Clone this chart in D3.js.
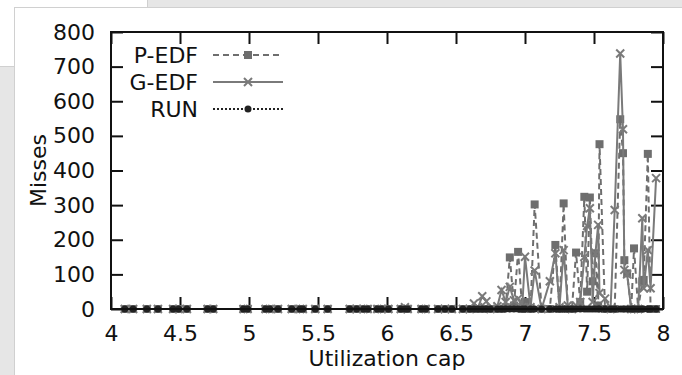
<!DOCTYPE html>
<html>
<head>
<meta charset="utf-8">
<script src="https://cdn.jsdelivr.net/npm/d3@7"></script>
<style>
  html, body { margin: 0; padding: 0; }
  body { width: 682px; height: 375px; background: #e6e6e6; position: relative; overflow: hidden; font-family: "DejaVu Sans", sans-serif; }
  #tab { position: absolute; left: 0; top: 0; width: 147px; height: 66px; background: #fff; border-right: 1px solid #d0d0d0; border-bottom: 1px solid #d0d0d0; }
  #panel { position: absolute; left: 14px; top: 7px; width: 700px; height: 400px; background: #fff; border-left: 1px solid #d0d0d0; border-top: 1px solid #d0d0d0; }
  #chart { position: absolute; left: 0; top: 0; }
</style>
</head>
<body>
<div id="tab"></div>
<div id="panel"></div>
<div id="chart"></div>
<script>
// Misses vs utilization cap
(function () {
    const width = 682;
    const height = 375;
    const margin = { top: 32, right: 19, bottom: 66, left: 111 };

    // utilization caps (shared by all three series)
    const caps = [4.10, 4.16, 4.26, 4.34, 4.45, 4.49, 4.55, 4.70, 4.74, 4.96, 4.99,
        5.12, 5.15, 5.21, 5.31, 5.37, 5.39, 5.48, 5.57, 5.73, 5.78, 5.83, 5.86, 5.93, 5.96,
        6.01, 6.10, 6.13, 6.15, 6.25, 6.28, 6.37, 6.42, 6.47, 6.55, 6.60, 6.63, 6.66, 6.69,
        6.72, 6.75, 6.80, 6.83, 6.86, 6.89, 6.92, 6.95, 6.98, 7.00, 7.04, 7.07, 7.12, 7.18,
        7.22, 7.25, 7.28, 7.31, 7.34, 7.37, 7.40, 7.43, 7.45, 7.47, 7.49, 7.51, 7.53, 7.54,
        7.58, 7.62, 7.65, 7.69, 7.71, 7.72, 7.74, 7.77, 7.79, 7.82, 7.85, 7.86, 7.89, 7.91, 7.95];

    const pedf = [0, 0, 0, 0, 0, 0, 0, 0, 0, 0, 0,
        0, 0, 0, 0, 0, 0, 0, 0, 0, 0, 0, 0, 0, 0,
        0, 0, 0, 0, 0, 0, 0, 0, 0, 0, 0, 0, 0, 0,
        0, 0, 0, 0, 5, 149, 10, 165, 0, 20, 0, 302, 0, 0,
        185, 0, 305, 0, 0, 163, 20, 324, 50, 322, 80, 161, 10, 476,
        0, 0, 0, 548, 450, 141, 103, 0, 175, 0, 80, 84, 448, 0, 0];

    const gedf = [0, 0, 0, 0, 0, 0, 0, 0, 0, 0, 0,
        0, 0, 0, 0, 0, 0, 0, 0, 0, 0, 0, 0, 0, 0,
        0, 0, 5, 0, 0, 0, 0, 0, 0, 0, 0, 16, 5, 37,
        22, 0, 8, 55, 20, 64, 25, 30, 5, 151, 5, 111, 0, 80,
        161, 5, 170, 10, 0, 10, 20, 150, 240, 291, 20, 160, 243, 46,
        30, 0, 286, 738, 519, 113, 100, 0, 0, 0, 262, 60, 170, 60, 378];

    const run = caps.map(() => 0);

    const yTicks = [0, 100, 200, 300, 400, 500, 600, 700, 800];
    const xTicks = [4, 4.5, 5, 5.5, 6, 6.5, 7, 7.5, 8];

    const series = [
        { name: 'P-EDF', values: pedf, color: '#6e6e6e', dash: '6,4', marker: 'square' },
        { name: 'G-EDF', values: gedf, color: '#7a7a7a', dash: null, marker: 'cross' },
        { name: 'RUN', values: run, color: '#222', dash: '2,2', marker: 'dot' }
    ];

    const svg = d3.select('#chart')
        .append('svg')
        .attr('width', width)
        .attr('height', height)
        .style('font-family', '"DejaVu Sans", sans-serif');

    const x = d3.scaleLinear().domain([4, 8]).range([margin.left, width - margin.right]);
    const y = d3.scaleLinear().domain([0, 800]).range([height - margin.bottom, margin.top]);

    const fontSize = 22;

    // axes with inward ticks
    svg.append('g')
        .attr('transform', `translate(0,${y(0)})`)
        .call(d3.axisBottom(x).tickValues(xTicks).tickFormat(d3.format('')).tickSize(-12).tickSizeOuter(0).tickPadding(16));
    svg.append('g')
        .attr('transform', `translate(${x(4)},0)`)
        .call(d3.axisLeft(y).tickValues(yTicks).tickSize(-12).tickSizeOuter(0).tickPadding(16));
    svg.append('g')
        .attr('transform', `translate(0,${y(800)})`)
        .call(d3.axisTop(x).tickValues(xTicks).tickFormat('').tickSize(-12).tickSizeOuter(0));
    svg.append('g')
        .attr('transform', `translate(${x(8)},0)`)
        .call(d3.axisRight(y).tickValues(yTicks).tickFormat('').tickSize(-12).tickSizeOuter(0));

    svg.selectAll('.domain').remove();
    svg.selectAll('.tick line').attr('stroke', '#111').attr('stroke-width', 2);
    svg.selectAll('.tick text')
        .attr('fill', '#111')
        .style('font-size', fontSize + 'px')
        .style('font-family', '"DejaVu Sans", sans-serif');

    // series lines and markers
    const line = d3.line()
        .x((d, i) => x(caps[i]))
        .y(d => y(d));

    function drawMarker(g, type, cx, cy, color) {
        if (type === 'square') {
            g.append('rect')
                .attr('x', cx - 4).attr('y', cy - 4)
                .attr('width', 8).attr('height', 8)
                .attr('fill', color);
        } else if (type === 'cross') {
            g.append('path')
                .attr('d', `M${cx - 4},${cy - 4}L${cx + 4},${cy + 4}M${cx - 4},${cy + 4}L${cx + 4},${cy - 4}`)
                .attr('stroke', color)
                .attr('stroke-width', 2);
        } else {
            g.append('circle')
                .attr('cx', cx).attr('cy', cy).attr('r', 3.5)
                .attr('fill', color);
        }
    }

    series.forEach(s => {
        const g = svg.append('g');
        g.append('path')
            .datum(s.values)
            .attr('d', line)
            .attr('fill', 'none')
            .attr('stroke', s.color)
            .attr('stroke-width', 2)
            .attr('stroke-dasharray', s.dash);
        s.values.forEach((v, i) => drawMarker(g, s.marker, x(caps[i]), y(v), s.color));
    });

    // frame
    svg.append('rect')
        .attr('x', x(4)).attr('y', y(800))
        .attr('width', x(8) - x(4)).attr('height', y(0) - y(800))
        .attr('fill', 'none')
        .attr('stroke', '#111')
        .attr('stroke-width', 2);

    // legend
    const legend = svg.append('g');
    series.forEach((s, i) => {
        const ly = 55 + i * 27;
        legend.append('text')
            .attr('x', 198).attr('y', ly).attr('dy', '0.36em')
            .attr('text-anchor', 'end')
            .attr('fill', '#111')
            .style('font-size', fontSize + 'px')
            .text(s.name);
        legend.append('line')
            .attr('x1', 213).attr('x2', 283)
            .attr('y1', ly).attr('y2', ly)
            .attr('stroke', s.color)
            .attr('stroke-width', 2)
            .attr('stroke-dasharray', s.dash);
        drawMarker(legend, s.marker, 248, ly, s.color);
    });

    // axis titles
    svg.append('text')
        .attr('x', (x(4) + x(8)) / 2).attr('y', 366)
        .attr('text-anchor', 'middle')
        .attr('fill', '#111')
        .style('font-size', fontSize + 'px')
        .text('Utilization cap');

    svg.append('text')
        .attr('transform', `translate(46,${(y(0) + y(800)) / 2}) rotate(-90)`)
        .attr('text-anchor', 'middle')
        .attr('fill', '#111')
        .style('font-size', fontSize + 'px')
        .text('Misses');
})();
</script>
</body>
</html>
